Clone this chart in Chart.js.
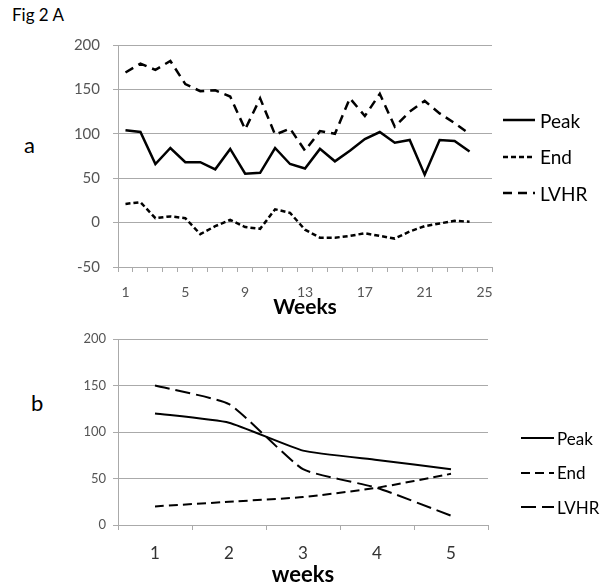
<!DOCTYPE html>
<html>
<head>
<meta charset="utf-8">
<script src="https://cdn.jsdelivr.net/npm/chart.js@4.4.1/dist/chart.umd.min.js"></script>
<style>
  body { margin: 0; background: #fff; font-family: Lato, sans-serif; color: #000; }
  #page { position: relative; width: 601px; height: 588px; overflow: hidden; }
  .abs { position: absolute; }
  .legend { position: absolute; list-style: none; margin: 0; padding: 0; }
  .legend li { display: flex; align-items: center; white-space: nowrap; }
  .legend svg { display: block; }
</style>
</head>
<body>
<div id="page">
  <div class="abs" style="left:12px;top:4px;font-size:17px">Fig 2 A</div>
  <div class="abs" style="left:24px;top:131px;font-size:22px">a</div>
  <div class="abs" style="left:31px;top:389px;font-size:22px">b</div>
  <canvas id="chartA" class="abs" width="601" height="320" style="left:0;top:0;width:601px;height:320px"></canvas>
  <canvas id="chartB" class="abs" width="601" height="268" style="left:0;top:320px;width:601px;height:268px"></canvas>
  <ul id="legendA" class="legend" style="left:503px;top:102px"></ul>
  <ul id="legendB" class="legend" style="left:521px;top:421px"></ul>
</div>
<script>
// Panel a: weekly values
const weeksA = ['1','2','3','4','5','6','7','8','9','10','11','12','13',
                '14','15','16','17','18','19','20','21','22','23','24','25'];
const peakA = [104, 102, 66, 84, 68, 68, 60, 83, 55, 56, 84, 66, 61,
               83, 69, 81, 94, 102, 90, 93, 54, 93, 92, 80];
const endA = [21, 23, 5, 7, 5, -13, -4, 3, -5, -7, 15, 11, -8,
              -17, -17, -15, -12, -15, -18, -10, -4, -1, 2, 1];
const lvhrA = [169, 179, 172, 182, 156, 148, 149, 142, 105, 140, 99, 106, 81,
               103, 100, 140, 120, 145, 108, 125, 137, 123, 112, 100];

// Panel b: averaged by week
const weeksB = ['1', '2', '3', '4', '5'];
const peakB = [120, 110, 80, 70, 60];
const endB = [20, 25, 30, 40, 55];
const lvhrB = [150, 130, 60, 40, 10];

Chart.defaults.font.family = 'Lato';
Chart.defaults.color = '#555';

const GRID = '#aaaaaa';

// legend in HTML, built from the datasets
const htmlLegend = {
  id: 'htmlLegend',
  afterUpdate(chart, args, opts) {
    const ul = document.getElementById(opts.containerID);
    ul.innerHTML = '';
    const ns = 'http://www.w3.org/2000/svg';
    chart.data.datasets.forEach(ds => {
      const li = document.createElement('li');
      li.style.height = opts.rowHeight + 'px';
      const svg = document.createElementNS(ns, 'svg');
      svg.setAttribute('width', opts.lineLength);
      svg.setAttribute('height', 6);
      const ln = document.createElementNS(ns, 'line');
      ln.setAttribute('x1', 0);
      ln.setAttribute('x2', opts.lineLength);
      ln.setAttribute('y1', 3);
      ln.setAttribute('y2', 3);
      ln.setAttribute('stroke', ds.borderColor);
      ln.setAttribute('stroke-width', ds.borderWidth);
      if (ds.borderDash) ln.setAttribute('stroke-dasharray', ds.borderDash.join(' '));
      svg.appendChild(ln);
      const span = document.createElement('span');
      span.textContent = ds.label;
      span.style.fontSize = opts.fontSize + 'px';
      span.style.marginLeft = opts.gap + 'px';
      li.appendChild(svg);
      li.appendChild(span);
      ul.appendChild(li);
    });
  }
};

new Chart(document.getElementById('chartA'), {
  type: 'line',
  data: {
    labels: weeksA,
    datasets: [
      { label: 'Peak', data: peakA, borderColor: '#000', borderWidth: 2.5, pointRadius: 0, tension: 0 },
      { label: 'End', data: endA, borderColor: '#000', borderWidth: 2.5, borderDash: [5, 3], pointRadius: 0, tension: 0 },
      { label: 'LVHR', data: lvhrA, borderColor: '#000', borderWidth: 2.5, borderDash: [9, 6], pointRadius: 0, tension: 0 },
    ],
  },
  plugins: [htmlLegend],
  options: {
    responsive: false,
    animation: false,
    layout: { padding: { top: 45, right: 109, left: 0, bottom: 0 } },
    plugins: {
      legend: { display: false },
      tooltip: { enabled: false },
      htmlLegend: { containerID: 'legendA', rowHeight: 36.5, lineLength: 32, gap: 5, fontSize: 19 },
    },
    scales: {
      x: {
        offset: true,
        afterFit: (scale) => { scale.height = 53; },
        grid: { offset: true, drawOnChartArea: false, drawTicks: true, tickLength: 5, color: GRID },
        border: { color: GRID },
        ticks: {
          autoSkip: false,
          maxRotation: 0,
          padding: 12,
          font: { size: 14 },
          callback: function (val, index) {
            return index % 4 === 0 ? this.getLabelForValue(val) : '';
          },
        },
        title: { display: true, text: 'Weeks', color: '#000', font: { size: 21, weight: 'bold' }, padding: { top: 0, bottom: 0 } },
      },
      y: {
        min: -50,
        max: 200,
        afterFit: (scale) => { scale.width = 118; },
        grid: { color: GRID, tickLength: 5 },
        border: { color: GRID },
        ticks: { stepSize: 50, padding: 13, font: { size: 15 } },
      },
    },
  },
});

new Chart(document.getElementById('chartB'), {
  type: 'line',
  data: {
    labels: weeksB,
    datasets: [
      { label: 'Peak', data: peakB, borderColor: '#000', borderWidth: 2, pointRadius: 0, tension: 0.15 },
      { label: 'End', data: endB, borderColor: '#000', borderWidth: 2, borderDash: [9, 5], pointRadius: 0, tension: 0.15 },
      { label: 'LVHR', data: lvhrB, borderColor: '#000', borderWidth: 2, borderDash: [15, 6], pointRadius: 0, tension: 0.15 },
    ],
  },
  plugins: [htmlLegend],
  options: {
    responsive: false,
    animation: false,
    layout: { padding: { top: 19, right: 113, left: 0, bottom: 0 } },
    plugins: {
      legend: { display: false },
      tooltip: { enabled: false },
      htmlLegend: { containerID: 'legendB', rowHeight: 34.5, lineLength: 33, gap: 3, fontSize: 17 },
    },
    scales: {
      x: {
        offset: true,
        afterFit: (scale) => { scale.height = 63; },
        grid: { offset: true, drawOnChartArea: false, drawTicks: true, tickLength: 5, color: GRID },
        border: { color: GRID },
        ticks: { maxRotation: 0, padding: 13, color: '#333', font: { size: 17 } },
        title: { display: true, text: 'weeks', color: '#000', font: { size: 22, weight: 'bold' }, padding: { top: 0, bottom: 0 } },
      },
      y: {
        min: 0,
        max: 200,
        afterFit: (scale) => { scale.width = 118; },
        grid: { color: GRID, tickLength: 5 },
        border: { color: GRID },
        ticks: { stepSize: 50, padding: 7, font: { size: 13 } },
      },
    },
  },
});
</script>
</body>
</html>
